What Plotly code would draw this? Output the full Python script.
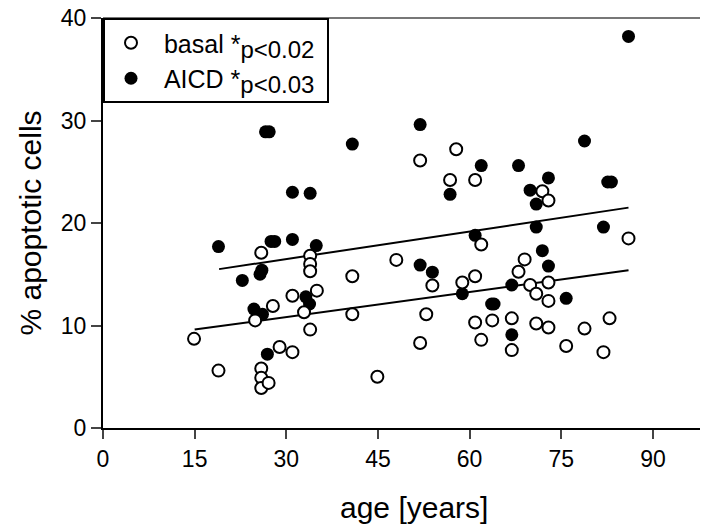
import plotly.graph_objects as go

# basal (open circles)
basal_age = [14.9, 18.9, 24.9, 25.9, 25.9, 25.9, 25.9, 27.1, 27.8, 28.9,
             31.0, 31.0, 32.9, 33.9, 33.9, 33.9, 33.9, 35.0, 40.8, 40.8,
             44.9, 48.0, 51.9, 51.9, 52.9, 53.9, 56.8, 57.8, 58.8, 60.9,
             60.9, 60.9, 61.9, 61.9, 63.7, 66.9, 66.9, 68.0, 69.0, 69.9,
             70.9, 70.9, 71.9, 72.9, 72.9, 72.9, 72.9, 75.8, 78.8, 81.9,
             82.9, 86.0]
basal_pct = [8.7, 5.6, 10.5, 17.1, 5.8, 4.9, 3.9, 4.4, 11.9, 7.9,
             12.9, 7.4, 11.3, 16.8, 16.0, 15.3, 9.6, 13.4, 14.8, 11.1,
             5.0, 16.4, 26.1, 8.3, 11.1, 13.9, 24.2, 27.2, 14.2, 24.2,
             14.8, 10.3, 17.9, 8.6, 10.5, 10.7, 7.6, 15.25, 16.45, 13.95,
             13.1, 10.2, 23.1, 22.2, 14.2, 12.4, 9.8, 8.0, 9.7, 7.4,
             10.7, 18.5]

# AICD (filled circles)
aicd_age = [18.9, 22.8, 24.7, 26.1, 25.7, 26.0, 26.6, 27.2, 26.9, 27.5,
            28.1, 31.0, 31.0, 33.9, 34.9, 33.2, 33.8, 40.8, 51.9, 51.9,
            53.9, 56.8, 58.8, 60.9, 61.9, 63.6, 64.0, 66.9, 66.9, 68.0,
            69.9, 70.9, 70.9, 71.9, 72.9, 72.9, 75.8, 78.8, 81.9, 82.6,
            83.2, 86.0]
aicd_pct = [17.7, 14.4, 11.6, 11.1, 15.0, 15.4, 28.9, 28.9, 7.2, 18.2,
            18.2, 23.0, 18.4, 22.9, 17.8, 12.8, 12.1, 27.7, 29.6, 15.9,
            15.2, 22.8, 13.1, 18.8, 25.6, 12.1, 12.1, 13.95, 9.1, 25.6,
            23.2, 21.85, 19.6, 17.3, 24.4, 15.8, 12.65, 28.0, 19.6, 24.0,
            24.0, 38.2]

# regression lines
basal_fit_age = [15, 86]
basal_fit_pct = [9.6, 15.4]
aicd_fit_age = [19, 86]
aicd_fit_pct = [15.5, 21.5]

x_ticks = [0, 15, 30, 45, 60, 75, 90]
y_ticks = [0, 10, 20, 30, 40]

FONT = "Liberation Sans, Arial, sans-serif"


def legend_label(name, p):
    return ("&nbsp;" + name + " *<sub><span style=\"font-size:24px\">p&lt;"
            + p + "</span></sub>&nbsp;")


fig = go.Figure()
fig.add_trace(go.Scatter(x=basal_fit_age, y=basal_fit_pct, mode="lines",
                         line=dict(color="black", width=2), showlegend=False,
                         hoverinfo="skip"))
fig.add_trace(go.Scatter(x=aicd_fit_age, y=aicd_fit_pct, mode="lines",
                         line=dict(color="black", width=2), showlegend=False,
                         hoverinfo="skip"))
fig.add_trace(go.Scatter(x=aicd_age, y=aicd_pct, mode="markers",
                         name=legend_label("AICD", "0.03"),
                         marker=dict(color="black", size=13,
                                     line=dict(color="black", width=0))))
fig.add_trace(go.Scatter(x=basal_age, y=basal_pct, mode="markers",
                         name=legend_label("basal", "0.02"),
                         marker=dict(color="white", size=12,
                                     line=dict(color="black", width=2))))

fig.update_layout(
    width=702, height=528,
    margin=dict(l=103, r=2, t=18, b=100),
    paper_bgcolor="white", plot_bgcolor="white",
    font=dict(family=FONT, color="black"),
    legend=dict(x=0, y=1, xanchor="left", yanchor="top",
                bordercolor="black", borderwidth=2, bgcolor="white",
                font=dict(size=25, family=FONT), traceorder="reversed",
                itemwidth=42, tracegroupgap=0),
    xaxis=dict(range=[0, 97.7], tickvals=x_ticks, ticks="outside",
               ticklen=9, tickwidth=2, showline=True, linecolor="black",
               linewidth=2, showgrid=False, zeroline=False,
               tickfont=dict(size=23, family=FONT)),
    yaxis=dict(range=[0, 40], tickvals=y_ticks, ticks="outside",
               ticklen=10, tickwidth=2, showline=True, linecolor="black",
               linewidth=2, showgrid=False, zeroline=False,
               tickfont=dict(size=23, family=FONT),
               title=dict(text="% apoptotic cells", font=dict(size=30, family=FONT),
                          standoff=10)),
    annotations=[dict(text="age [years]", xref="paper", yref="paper",
                      x=0.521, y=-0.193, xanchor="center", yanchor="middle",
                      showarrow=False, font=dict(size=30, family=FONT))],
    shapes=[dict(type="line", xref="paper", yref="paper", x0=0, x1=1, y0=1, y1=1,
                 line=dict(color="#777777", width=2))],
)

fig.write_html("out.html")
